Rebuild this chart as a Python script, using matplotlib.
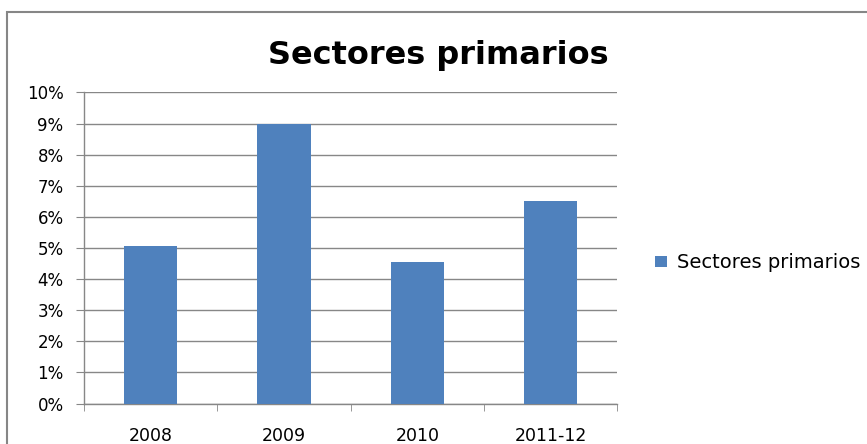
import matplotlib
matplotlib.use("Agg")
import matplotlib.pyplot as plt
from matplotlib.patches import Rectangle
from matplotlib.ticker import FuncFormatter, FixedLocator

categories = ["2008", "2009", "2010", "2011-12"]
values = [5.07, 9.0, 4.54, 6.51]
series_name = "Sectores primarios"

plt.rcParams["font.family"] = ["DejaVu Sans"]

fig = plt.figure(figsize=(8.67, 4.44), dpi=100)
ax = fig.add_axes([0.097, 0.0912, 0.615, 0.7005])

x = range(len(categories))
ax.bar(x, values, width=0.4, color="#4f81bd", label=series_name, zorder=3)

ax.set_xlim(-0.5, len(categories) - 0.5)
ax.set_ylim(0, 10)
ax.set_yticks(range(0, 11))
ax.yaxis.set_major_formatter(FuncFormatter(lambda v, pos: f"{v:.0f}%"))
ax.grid(axis="y", color="#878787", lw=1, zorder=0)

ax.set_xticks(list(x))
ax.set_xticklabels(categories)
ax.xaxis.set_minor_locator(FixedLocator([i - 0.5 for i in range(len(categories) + 1)]))
ax.tick_params(axis="x", which="major", length=0, pad=17, labelsize=12.5)
ax.tick_params(axis="x", which="minor", length=5, color="#878787", direction="out")
ax.tick_params(axis="y", length=5.8, color="#878787", labelsize=12, pad=9)

for side in ("top", "right"):
    ax.spines[side].set_visible(False)
for side in ("left", "bottom"):
    ax.spines[side].set_color("#878787")
    ax.spines[side].set_linewidth(1)

fig.text(0.506, 1 - 64 / 444, "Sectores primarios", ha="center", va="baseline",
         fontsize=23, fontweight="bold")

ax.legend(loc="center left", bbox_to_anchor=(655 / 867, 1 - 263 / 444),
          bbox_transform=fig.transFigure, frameon=False, fontsize=14,
          borderpad=0, borderaxespad=0, handlelength=0.62, handleheight=0.55,
          handletextpad=0.5)

# chart border
fig.patches.append(Rectangle((6.5 / 867, -0.1), 1.1, 1.1 - 12 / 444,
                             transform=fig.transFigure, fill=False,
                             edgecolor="#868686", lw=1.5))

fig.savefig("out.png", dpi=100)
